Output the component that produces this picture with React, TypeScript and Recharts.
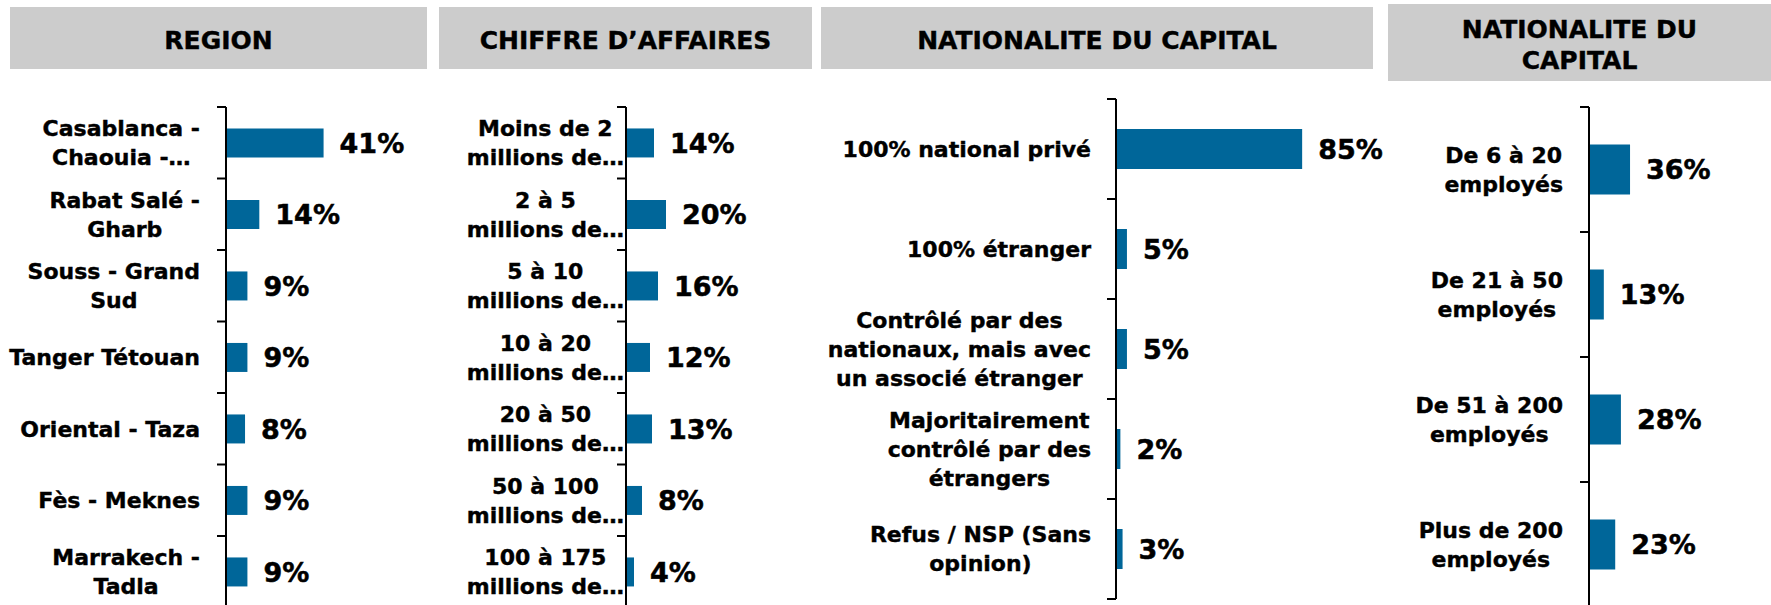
import { Bar, BarChart, LabelList, XAxis, YAxis } from 'recharts';

const FONT = "'DejaVu Sans', Verdana, sans-serif";
const BLUE = '#006699';
const HEADER_BG = '#cccccc';

// REGION
const regionLabels = [
  'Casablanca -\nChaouia -…',
  'Rabat Salé -\nGharb',
  'Souss - Grand\nSud',
  'Tanger Tétouan',
  'Oriental - Taza',
  'Fès - Meknes',
  'Marrakech -\nTadla',
];
const regionValues = [41, 14, 9, 9, 8, 9, 9];

// CHIFFRE D'AFFAIRES
const caLabels = [
  'Moins de 2\nmillions de…',
  '2 à 5\nmillions de…',
  '5 à 10\nmillions de…',
  '10 à 20\nmillions de…',
  '20 à 50\nmillions de…',
  '50 à 100\nmillions de…',
  '100 à 175\nmillions de…',
];
const caValues = [14, 20, 16, 12, 13, 8, 4];

// NATIONALITE DU CAPITAL
const capitalLabels = [
  '100% national privé',
  '100% étranger',
  'Contrôlé par des\nnationaux, mais avec\nun associé étranger',
  'Majoritairement\ncontrôlé par des\nétrangers',
  'Refus / NSP (Sans\nopinion)',
];
const capitalValues = [85, 5, 5, 2, 3];

// effectif (header repeats the capital title in the source)
const staffLabels = [
  'De 6 à 20\nemployés',
  'De 21 à 50\nemployés',
  'De 51 à 200\nemployés',
  'Plus de 200\nemployés',
];
const staffValues = [36, 13, 28, 23];

const titles = ['REGION', 'CHIFFRE D’AFFAIRES', 'NATIONALITE DU CAPITAL', 'NATIONALITE DU\nCAPITAL'];

const LABEL_SIZE = 22;

let ctx: CanvasRenderingContext2D | null = null;
const textWidth = (s: string, size: number) => {
  if (!ctx) ctx = document.createElement('canvas').getContext('2d');
  if (!ctx) return s.length * size * 0.65;
  ctx.font = `bold ${size}px ${FONT}`;
  return ctx.measureText(s).width;
};

type TickProps = {
  x?: number;
  y?: number;
  payload?: { value: string };
  index?: number;
  band: number;
  gap: number;
  count: number;
};

const CategoryTick = ({ x = 0, y = 0, payload, index = 0, band, gap, count }: TickProps) => {
  const lines = String(payload?.value ?? '').split('\n');
  const widest = Math.max(...lines.map((l) => textWidth(l, LABEL_SIZE)));
  const cx = x - gap - widest / 2;
  const top = y - band / 2;
  const bottom = y + band / 2;
  return (
    <g>
      <line x1={x - 9} x2={x} y1={top} y2={top} stroke="#000" strokeWidth={2} />
      {index === count - 1 && (
        <line x1={x - 9} x2={x} y1={bottom} y2={bottom} stroke="#000" strokeWidth={2} />
      )}
      <text
        textAnchor="middle"
        fontFamily={FONT}
        fontWeight="bold"
        fontSize={LABEL_SIZE}
        fill="#000"
        stroke="#000"
        strokeWidth={0.4}
      >
        {lines.map((l, i) => (
          <tspan key={i} x={cx} y={y + (i - (lines.length - 1) / 2) * 29} dy="0.36em">
            {l}
          </tspan>
        ))}
      </text>
    </g>
  );
};

type PanelProps = {
  left: number;
  axisX: number;
  top: number;
  band: number;
  plotW: number;
  gap: number;
  labels: string[];
  values: number[];
};

const Panel = ({ left, axisX, top, band, plotW, gap, labels, values }: PanelProps) => {
  const data = labels.map((name, i) => ({ name, value: values[i] }));
  const yW = axisX - left;
  const rightM = 90;
  const height = top + band * labels.length + 20;
  return (
    <div style={{ position: 'absolute', left, top: 0 }}>
      <BarChart
        layout="vertical"
        width={yW + plotW + rightM}
        height={height}
        data={data}
        margin={{ top, right: rightM, bottom: 20, left: 0 }}
        barCategoryGap="30%"
      >
        <XAxis type="number" domain={[0, 100]} hide />
        <YAxis
          type="category"
          dataKey="name"
          width={yW}
          axisLine={{ stroke: '#000', strokeWidth: 2 }}
          tickLine={false}
          tickSize={0}
          tickMargin={0}
          interval={0}
          tick={<CategoryTick band={band} gap={gap} count={labels.length} />}
        />
        <Bar dataKey="value" fill={BLUE} isAnimationActive={false}>
          <LabelList
            dataKey="value"
            position="right"
            offset={16}
            formatter={(v: number) => `${v}%`}
            fill="#000"
            stroke="#000"
            strokeWidth={0.5}
            fontSize={27}
            fontWeight="bold"
            fontFamily={FONT}
          />
        </Bar>
      </BarChart>
    </div>
  );
};

const Header = ({ left, top, width, height, text }: { left: number; top: number; width: number; height: number; text: string }) => (
  <div
    style={{
      position: 'absolute',
      left,
      top,
      width,
      height,
      boxSizing: 'border-box',
      paddingTop: 5,
      background: HEADER_BG,
      display: 'flex',
      alignItems: 'center',
      justifyContent: 'center',
      textAlign: 'center',
      whiteSpace: 'pre-line',
      fontFamily: FONT,
      fontWeight: 'bold',
      fontSize: 25,
      lineHeight: '31px',
      color: '#000',
      WebkitTextStroke: '0.4px #000',
    }}
  >
    {text}
  </div>
);

export default function App() {
  return (
    <div
      style={{
        position: 'absolute',
        left: 0,
        top: 0,
        width: 1771,
        height: 605,
        overflow: 'hidden',
        background: '#fff',
      }}
    >
      <Header left={10} top={7} width={417} height={62} text={titles[0]} />
      <Header left={439} top={7} width={373} height={62} text={titles[1]} />
      <Header left={821} top={7} width={552} height={62} text={titles[2]} />
      <Header left={1388} top={4} width={383} height={77} text={titles[3]} />

      <Panel left={0} axisX={226} top={107} band={71.5} plotW={238} gap={26} labels={regionLabels} values={regionValues} />
      <Panel left={430} axisX={626} top={107} band={71.5} plotW={200} gap={2} labels={caLabels} values={caValues} />
      <Panel left={820} axisX={1116} top={99} band={100} plotW={219} gap={25} labels={capitalLabels} values={capitalValues} />
      <Panel left={1370} axisX={1589} top={107} band={125} plotW={114} gap={26} labels={staffLabels} values={staffValues} />
    </div>
  );
}
